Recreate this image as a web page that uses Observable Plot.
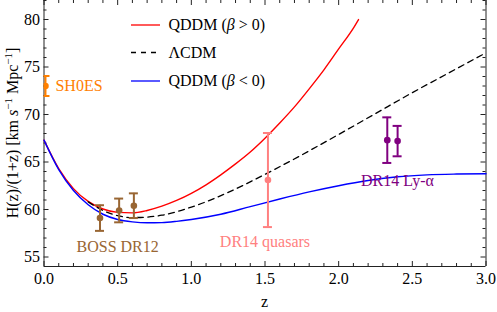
<!DOCTYPE html>
<html><head><meta charset="utf-8">
<script src="https://cdn.jsdelivr.net/npm/d3@7"></script>
<script src="https://cdn.jsdelivr.net/npm/@observablehq/plot@0.6"></script>
<style>body{margin:0;background:#fff} #chart{width:497px;height:312px;position:relative}</style>
</head><body><div id="chart"></div>
<script>
// ---- data ----
const zRed  = [0,0.1,0.2,0.3,0.4,0.5,0.6,0.7,0.8,0.9,1.0,1.1,1.2,1.3,1.4,1.5,1.6,1.7,1.8,1.9,2.0,2.1,2.135];
const hRed  = [67.3,64.3,62.2,60.85,60.05,59.7,59.65,59.9,60.35,60.95,61.7,62.6,63.65,64.8,66.05,67.5,69.1,70.8,72.7,74.7,76.9,79.1,80.0];
const zBlue = [0,0.1,0.2,0.3,0.4,0.5,0.6,0.7,0.8,0.9,1.0,1.2,1.4,1.6,1.8,2.0,2.2,2.4,2.6,2.8,3.0];
const hBlue = [67.3,64.2,62.0,60.5,59.5,58.95,58.7,58.6,58.62,58.75,58.95,59.5,60.3,61.1,61.85,62.5,63.05,63.45,63.65,63.73,63.76];
const zLcdm = [0.3,0.4,0.5,0.6,0.7,0.8,1.0,1.25,1.5,1.75,2.0,2.25,2.5,2.75,3.0];
const hLcdm = [60.8,59.9,59.35,59.15,59.2,59.4,60.25,61.8,63.7,65.75,67.9,70.1,72.3,74.4,76.5];

const zShoes = [0.01], hShoes = [73.0], eShoes = [1.05];
const zBoss = [0.38,0.51,0.61], hBoss = [59.1,59.9,60.4], eBoss = [1.35,1.25,1.3];
const zQso = [1.52], hQso = [63.1], eQso = [4.95];
const zLya = [2.33,2.40], hLya = [67.3,67.2], eLya = [2.4,1.6];

const xTicks = [0,0.5,1.0,1.5,2.0,2.5,3.0];
const yTicks = [55,60,65,70,75,80];
const xMinor = d3.range(0,3.0001,0.1).map(v=>+v.toFixed(2)).filter(v=>Math.abs(v*2-Math.round(v*2))>1e-6);
const yMinor = d3.range(55,83,1).filter(v=>v%5!==0);

const zip = (z,h,e) => z.map((v,i)=>({z:v,h:h[i],lo:e?h[i]-e[i]:null,hi:e?h[i]+e[i]:null}));
const red = zip(zRed,hRed), blue = zip(zBlue,hBlue), lcdm = zip(zLcdm,hLcdm);
const shoes = zip(zShoes,hShoes,eShoes), boss = zip(zBoss,hBoss,eBoss), qso = zip(zQso,hQso,eQso), lya = zip(zLya,hLya,eLya);
const center = arr => [{z: d3.mean(arr,d=>d.z), h: d3.mean(arr,d=>d.h)}];

const W=497,H=312,mL=43.5,mR=11.5,mT=0,mB=46;
const fw=W-mL-mR, fh=H-mT-mB;
const C = {shoes:"#ff8000", boss:"#996633", qso:"#ff8080", lya:"#800080"};
const font = "'Liberation Serif','Times New Roman',serif";

function errMarks(data,color,extra={}){
  return [
    Plot.ruleX(data,{x:"z",y1:"lo",y2:"hi",stroke:color,strokeWidth:2,...extra}),
    Plot.ruleY(data,{y:"lo",x1:"z",x2:"z",insetLeft:-4.5,insetRight:-4.5,stroke:color,strokeWidth:2,...extra}),
    Plot.ruleY(data,{y:"hi",x1:"z",x2:"z",insetLeft:-4.5,insetRight:-4.5,stroke:color,strokeWidth:2,...extra}),
    Plot.dot(data,{x:"z",y:"h",r:3.3,fill:color,stroke:"none",...extra})
  ];
}

const plot = Plot.plot({
  width:W,height:H,marginLeft:mL,marginRight:mR,marginTop:mT,marginBottom:mB,
  style:{fontFamily:font,fontSize:"16px",background:"white",color:"black",overflow:"visible"},
  x:{domain:[0,3]},
  y:{domain:[54,82]},
  marks:[
    Plot.axisX({ticks:xTicks,tickFormat:d=>d.toFixed(1),tickSize:0,tickPadding:6,label:null,fontSize:16}),
    Plot.axisY({ticks:yTicks,tickSize:0,tickPadding:4,label:null,fontSize:16}),
    // frame
    Plot.ruleX([0,3],{stroke:"#222",strokeWidth:1}),
    Plot.ruleY([54],{stroke:"#222",strokeWidth:1}),
    // ticks (inward)
    Plot.tickX(xTicks,{insetTop:fh-5,stroke:"#222"}),
    Plot.tickX(xTicks,{insetBottom:fh-5,stroke:"#222"}),
    Plot.tickX(xMinor,{insetTop:fh-3,stroke:"#222"}),
    Plot.tickX(xMinor,{insetBottom:fh-3,stroke:"#222"}),
    Plot.tickY(yTicks,{insetRight:fw-5,stroke:"#222"}),
    Plot.tickY(yTicks,{insetLeft:fw-5,stroke:"#222"}),
    Plot.tickY(yMinor,{insetRight:fw-3,stroke:"#222"}),
    Plot.tickY(yMinor,{insetLeft:fw-3,stroke:"#222"}),
    // curves
    Plot.line(red,{x:"z",y:"h",stroke:"#ff0000",strokeWidth:1.4,curve:"monotone-x"}),
    Plot.line(blue,{x:"z",y:"h",stroke:"#0000ff",strokeWidth:1.4,curve:"monotone-x"}),
    Plot.line(lcdm,{x:"z",y:"h",stroke:"#000",strokeWidth:1.3,strokeDasharray:"6,4.5",curve:"monotone-x"}),
    // data
    ...errMarks(shoes,C.shoes,{clip:true}),
    ...errMarks(boss,C.boss),
    ...errMarks(qso,C.qso),
    ...errMarks(lya,C.lya),
    // labels
    Plot.text(center(shoes),{x:"z",y:"h",text:()=>"SH0ES",fill:C.shoes,textAnchor:"start",dx:10,dy:0,fontSize:16}),
    Plot.text(center(boss),{x:"z",y:"h",text:()=>"BOSS DR12",fill:C.boss,dx:0,dy:35.5,fontSize:16}),
    Plot.text(center(qso),{x:"z",y:"h",text:()=>"DR14 quasars",fill:C.qso,dx:-3,dy:61.5,fontSize:16}),
    Plot.text(center(lya),{x:"z",y:"h",text:()=>"DR14 Ly-α",fill:C.lya,dx:5,dy:40,fontSize:16,ariaLabel:"lya"})
  ]
});

const svg = d3.select(plot);
// italic alpha in Ly-alpha label
const lt = svg.select('g[aria-label="lya"] text');
if(!lt.empty()){
  lt.text(null);
  lt.append("tspan").text("DR14 Ly–");
  lt.append("tspan").attr("font-style","italic").text("α");
}
// legend
const leg = svg.append("g").attr("font-family",font).attr("font-size",16).attr("fill","black").attr("text-anchor","start");
const items = [
  {y:25, stroke:"#ff0000", dash:null, parts:[["QDDM (",0],["β",1],[" > 0)",0]]},
  {y:52.5, stroke:"#000", dash:"5,5", parts:[["ΛCDM",0]]},
  {y:81, stroke:"#0000ff", dash:null, parts:[["QDDM (",0],["β",1],[" < 0)",0]]}
];
items.forEach(it=>{
  leg.append("line").attr("x1",131).attr("x2",160).attr("y1",it.y).attr("y2",it.y)
    .attr("stroke",it.stroke).attr("stroke-width",1.3).attr("stroke-dasharray",it.dash);
  const t = leg.append("text").attr("x",168.5).attr("y",it.y+5.3).attr("text-anchor","start");
  it.parts.forEach(([s,i])=>{const ts=t.append("tspan").text(s); if(i) ts.attr("font-style","italic");});
});
// axis labels
svg.append("text").attr("x",mL+fw/2).attr("y",307).attr("text-anchor","middle")
  .attr("font-family",font).attr("font-size",16).text("z");
const yl = svg.append("text").attr("transform",`translate(17.5,${mT+fh/2}) rotate(-90)`)
  .attr("text-anchor","middle").attr("font-family",font).attr("font-size",16);
yl.append("tspan").text("H(z)/(1+z) [km ");
yl.append("tspan").attr("font-style","italic").text("s");
yl.append("tspan").attr("font-size",11).attr("dy",-6).text("−1");
yl.append("tspan").attr("dy",6).text(" Mpc");
yl.append("tspan").attr("font-size",11).attr("dy",-6).text("−1");
yl.append("tspan").attr("dy",6).text("]");

document.getElementById("chart").appendChild(plot);
</script>
</body></html>
